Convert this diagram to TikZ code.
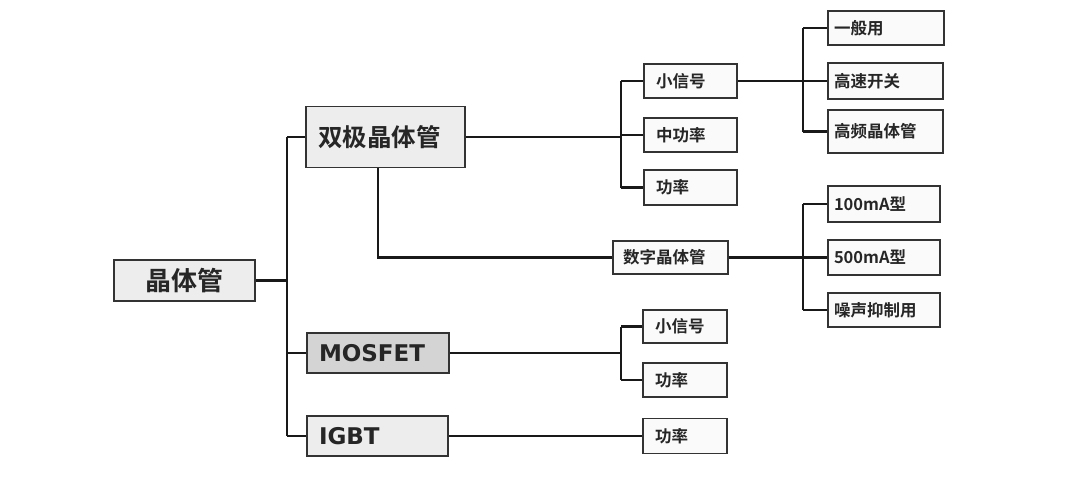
\documentclass[tikz,border=0pt]{standalone}
\usepackage{fontspec}
\setmainfont{DejaVu Sans}
\newfontfamily\cjk{Noto Sans CJK SC}[BoldFont={Noto Sans CJK SC Bold}]
\definecolor{edge}{HTML}{333333}
\definecolor{lightfill}{HTML}{EDEDED}
\definecolor{midfill}{HTML}{D4D4D4}
\definecolor{paper}{HTML}{FAFAFA}
\begin{document}
\begin{tikzpicture}[x=1pt,y=-1pt,
  box/.style={draw=edge,line width=1.6pt,inner ysep=0pt,align=left,text=black!85},
  big/.style={box,fill=lightfill,font=\cjk\bfseries\fontsize{24.5}{25}\selectfont,inner xsep=12pt},
  latin/.style={box,fill=lightfill,font=\bfseries\fontsize{23}{23}\selectfont,inner xsep=12pt},
  small/.style={box,fill=paper,font=\cjk\bfseries\fontsize{16.5}{17}\selectfont,inner xsep=12pt},
  tiny/.style={box,fill=paper,font=\cjk\bfseries\fontsize{16.5}{17}\selectfont,inner xsep=6pt},
  thick line/.style={draw=black!90,line width=2.8pt},
  thin line/.style={draw=black!90,line width=2.1pt}]
\useasboundingbox (0,0) rectangle (1080,477);
% main nodes
\node[big,align=center,text width=141pt,inner xsep=0pt,minimum height=41pt,font=\cjk\bfseries\fontsize{26}{26}\selectfont] (root) at (184.5,280.5) {晶体管};
\node[big,text width=135pt,minimum height=61pt] (bjt) at (385.5,137) {双极晶体管};
\node[latin,fill=midfill,text width=118pt,minimum height=40pt] (mos) at (378,353) {MOSFET};
\node[latin,text width=117pt,minimum height=40pt] (igbt) at (377.5,436) {IGBT};
% bjt children
\node[small,text width=69pt,minimum height=34pt] (b1) at (690.5,81) {小信号};
\node[small,text width=69pt,minimum height=34pt] (b2) at (690.5,135) {中功率};
\node[small,text width=69pt,minimum height=35pt] (b3) at (690.5,187.5) {功率};
\node[small,text width=95pt,inner xsep=10pt,minimum height=33pt] (dig) at (670.5,257.5) {数字晶体管};
% small-signal children
\node[tiny,text width=104pt,minimum height=34pt] (h1) at (886,28) {一般用};
\node[tiny,text width=103pt,minimum height=36pt] (h2) at (885.5,81) {高速开关};
\node[tiny,text width=103pt,minimum height=43pt] (h3) at (885.5,131.5) {高频晶体管};
% digital children
\node[tiny,text width=100pt,minimum height=36pt] (d1) at (884,204) {100mA型};
\node[tiny,text width=100pt,minimum height=35pt] (d2) at (884,257.5) {500mA型};
\node[tiny,text width=100pt,minimum height=34pt] (d3) at (884,310) {噪声抑制用};
% mosfet / igbt children
\node[small,text width=60pt,minimum height=33pt] (m1) at (685,326.5) {小信号};
\node[small,text width=60pt,minimum height=34pt] (m2) at (685,380) {功率};
\node[small,text width=60pt,minimum height=35pt] (i1) at (685,436) {功率};
% junction coordinates
\coordinate (jt) at (287,280.5);
\coordinate (jb) at (621,0);
\coordinate (jd) at (378,0);
\coordinate (jr) at (803,0);
% trunk
\draw[thick line] (root.east) -- (jt);
\draw[thick line] (jt |- bjt.west) -- (jt |- igbt.west);
\draw[thick line] (jt |- bjt.west) -- (bjt.west);
\draw[thick line] (jt |- mos.west) -- (mos.west);
\draw[thick line] (jt |- igbt.west) -- (igbt.west);
% bjt branch
\draw[thick line] (bjt.east) -- (jb |- bjt.east);
\draw[thin line] (jb |- b1.west) -- (jb |- b3.west);
\draw[thin line] (jb |- b1.west) -- (b1.west);
\draw[thin line] (jb |- b2.west) -- (b2.west);
\draw[thin line] (jb |- b3.west) -- (b3.west);
\draw[thin line] (jd |- bjt.south) |- (dig.west);
% small-signal branch
\draw[thin line] (b1.east) -- (h2.west);
\draw[thin line] (jr |- h1.west) -- (jr |- h3.west);
\draw[thin line] (jr |- h1.west) -- (h1.west);
\draw[thin line] (jr |- h3.west) -- (h3.west);
% digital branch
\draw[thin line] (dig.east) -- (d2.west);
\draw[thin line] (jr |- d1.west) -- (jr |- d3.west);
\draw[thin line] (jr |- d1.west) -- (d1.west);
\draw[thin line] (jr |- d3.west) -- (d3.west);
% mosfet branch
\draw[thick line] (mos.east) -- (jb |- mos.east);
\draw[thin line] (jb |- m1.west) -- (jb |- m2.west);
\draw[thin line] (jb |- m1.west) -- (m1.west);
\draw[thin line] (jb |- m2.west) -- (m2.west);
% igbt branch
\draw[thick line] (igbt.east) -- (i1.west);
\end{tikzpicture}
\end{document}
